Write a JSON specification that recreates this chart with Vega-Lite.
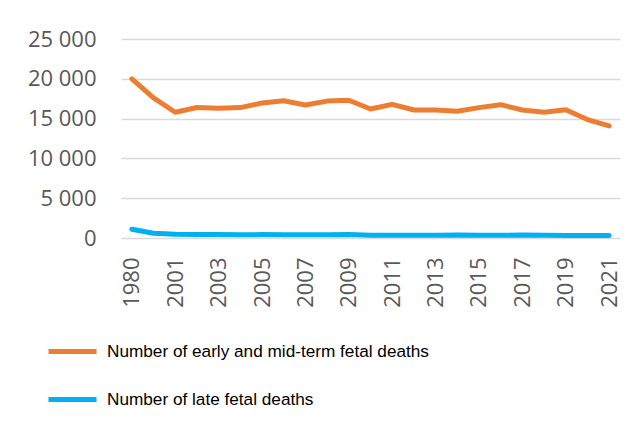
{
  "$schema": "https://vega.github.io/schema/vega-lite/v6.json",
  "width": 499,
  "height": 199,
  "autosize": {"type": "none"},
  "padding": {"left": 121, "top": 39, "right": 24, "bottom": 195},
  "background": "white",
  "config": {"view": {"stroke": null}},
  "data": {
    "values": [
      {"year": "1980", "series": "Number of early and mid-term fetal deaths", "value": 20000},
      {"year": "2000", "series": "Number of early and mid-term fetal deaths", "value": 17600},
      {"year": "2001", "series": "Number of early and mid-term fetal deaths", "value": 15800},
      {"year": "2002", "series": "Number of early and mid-term fetal deaths", "value": 16400},
      {"year": "2003", "series": "Number of early and mid-term fetal deaths", "value": 16300},
      {"year": "2004", "series": "Number of early and mid-term fetal deaths", "value": 16380},
      {"year": "2005", "series": "Number of early and mid-term fetal deaths", "value": 16960},
      {"year": "2006", "series": "Number of early and mid-term fetal deaths", "value": 17250},
      {"year": "2007", "series": "Number of early and mid-term fetal deaths", "value": 16710},
      {"year": "2008", "series": "Number of early and mid-term fetal deaths", "value": 17200},
      {"year": "2009", "series": "Number of early and mid-term fetal deaths", "value": 17300},
      {"year": "2010", "series": "Number of early and mid-term fetal deaths", "value": 16210},
      {"year": "2011", "series": "Number of early and mid-term fetal deaths", "value": 16790},
      {"year": "2012", "series": "Number of early and mid-term fetal deaths", "value": 16080},
      {"year": "2013", "series": "Number of early and mid-term fetal deaths", "value": 16080},
      {"year": "2014", "series": "Number of early and mid-term fetal deaths", "value": 15920},
      {"year": "2015", "series": "Number of early and mid-term fetal deaths", "value": 16380},
      {"year": "2016", "series": "Number of early and mid-term fetal deaths", "value": 16750},
      {"year": "2017", "series": "Number of early and mid-term fetal deaths", "value": 16080},
      {"year": "2018", "series": "Number of early and mid-term fetal deaths", "value": 15790},
      {"year": "2019", "series": "Number of early and mid-term fetal deaths", "value": 16120},
      {"year": "2020", "series": "Number of early and mid-term fetal deaths", "value": 14880},
      {"year": "2021", "series": "Number of early and mid-term fetal deaths", "value": 14090},
      {"year": "1980", "series": "Number of late fetal deaths", "value": 1100},
      {"year": "2000", "series": "Number of late fetal deaths", "value": 600},
      {"year": "2001", "series": "Number of late fetal deaths", "value": 460},
      {"year": "2002", "series": "Number of late fetal deaths", "value": 440},
      {"year": "2003", "series": "Number of late fetal deaths", "value": 430},
      {"year": "2004", "series": "Number of late fetal deaths", "value": 400},
      {"year": "2005", "series": "Number of late fetal deaths", "value": 430},
      {"year": "2006", "series": "Number of late fetal deaths", "value": 400},
      {"year": "2007", "series": "Number of late fetal deaths", "value": 400},
      {"year": "2008", "series": "Number of late fetal deaths", "value": 410},
      {"year": "2009", "series": "Number of late fetal deaths", "value": 450},
      {"year": "2010", "series": "Number of late fetal deaths", "value": 350},
      {"year": "2011", "series": "Number of late fetal deaths", "value": 340},
      {"year": "2012", "series": "Number of late fetal deaths", "value": 330},
      {"year": "2013", "series": "Number of late fetal deaths", "value": 340},
      {"year": "2014", "series": "Number of late fetal deaths", "value": 390},
      {"year": "2015", "series": "Number of late fetal deaths", "value": 340},
      {"year": "2016", "series": "Number of late fetal deaths", "value": 340},
      {"year": "2017", "series": "Number of late fetal deaths", "value": 380},
      {"year": "2018", "series": "Number of late fetal deaths", "value": 330},
      {"year": "2019", "series": "Number of late fetal deaths", "value": 320},
      {"year": "2020", "series": "Number of late fetal deaths", "value": 320},
      {"year": "2021", "series": "Number of late fetal deaths", "value": 310}
    ]
  },
  "mark": {"type": "line", "strokeWidth": 5, "strokeCap": "round", "strokeJoin": "round"},
  "encoding": {
    "x": {
      "field": "year",
      "type": "ordinal",
      "scale": {"type": "point", "padding": 0.5},
      "axis": {
        "title": null,
        "values": ["1980", "2001", "2003", "2005", "2007", "2009", "2011", "2013", "2015", "2017", "2019", "2021"],
        "labelAngle": -90,
        "labelAlign": "right",
        "labelBaseline": "middle",
        "labelPadding": 19,
        "labelFont": "Open Sans",
        "labelFontSize": 22,
        "labelColor": "#595959",
        "ticks": false,
        "domain": false,
        "grid": false
      }
    },
    "y": {
      "field": "value",
      "type": "quantitative",
      "scale": {"domain": [0, 25000], "nice": false},
      "axis": {
        "title": null,
        "values": [0, 5000, 10000, 15000, 20000, 25000],
        "labelExpr": "replace(format(datum.value, ','), ',', ' ')",
        "labelFont": "Open Sans",
        "labelFontSize": 22,
        "labelColor": "#595959",
        "labelPadding": 25,
        "ticks": false,
        "domain": false,
        "grid": true,
        "gridColor": "#D9D9D9",
        "gridWidth": 1.3
      }
    },
    "color": {
      "field": "series",
      "type": "nominal",
      "scale": {
        "domain": ["Number of early and mid-term fetal deaths", "Number of late fetal deaths"],
        "range": ["#ED7D31", "#00B0F0"]
      },
      "legend": {
        "title": null,
        "orient": "none",
        "legendX": -75,
        "legendY": 286,
        "direction": "vertical",
        "symbolType": "stroke",
        "symbolSize": 2304,
        "symbolStrokeWidth": 5,
        "labelFont": "Liberation Sans",
        "labelFontSize": 17.2,
        "labelColor": "#000000",
        "labelOffset": 8,
        "labelLimit": 600,
        "rowPadding": 11
      }
    }
  }
}
